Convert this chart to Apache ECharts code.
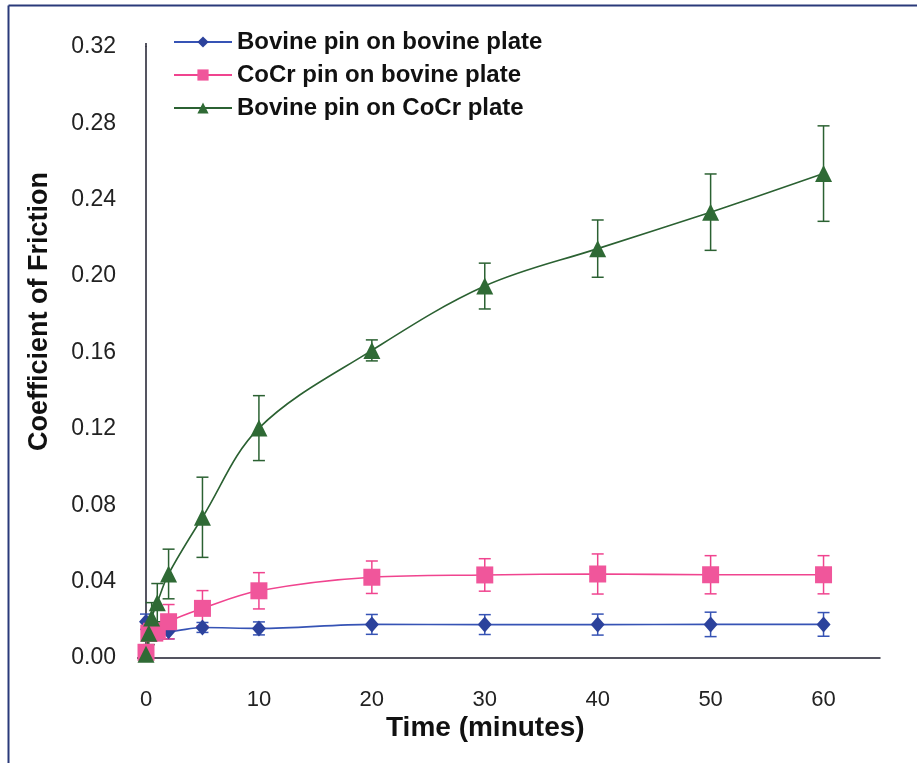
<!DOCTYPE html>
<html><head><meta charset="utf-8">
<script src="https://cdn.jsdelivr.net/npm/echarts@6/dist/echarts.min.js"></script>
<style>html,body{margin:0;padding:0;background:#fff}#c{width:917px;height:763px}</style>
</head><body><div id="c"></div>
<script>
const times = [0, 0.25, 0.5, 1, 2, 5, 10, 20, 30, 40, 50, 60];
const seriesNames = ['Bovine pin on bovine plate', 'CoCr pin on bovine plate', 'Bovine pin on CoCr plate'];
const bovineBovine = [0.019, 0.016, 0.015, 0.014, 0.014, 0.016, 0.0155, 0.0176, 0.0175, 0.0175, 0.0176, 0.0176];
const bovineBovineErr = [0.004, 0.004, 0.004, 0.004, 0.004, 0.0026, 0.0034, 0.0052, 0.0052, 0.0055, 0.0064, 0.0062];
const cocrBovine = [0.003, 0.013, 0.014, 0.014, 0.019, 0.026, 0.0352, 0.0423, 0.0435, 0.0440, 0.0436, 0.0436];
const cocrBovineErr = [0.002, 0.004, 0.005, 0.005, 0.009, 0.0093, 0.0095, 0.0085, 0.0085, 0.0105, 0.01, 0.01];
const bovineCocr = [0.002, 0.013, 0.021, 0.029, 0.044, 0.0737, 0.1204, 0.1611, 0.1948, 0.2144, 0.2335, 0.2537];
const bovineCocrErr = [0.003, 0.006, 0.008, 0.01, 0.013, 0.021, 0.017, 0.0055, 0.012, 0.015, 0.02, 0.025];
const yTicks = ['0.00','0.04','0.08','0.12','0.16','0.20','0.24','0.28','0.32'];

const colors = {
  line: ['#3653b5', '#f0448f', '#2b6132'],
  mark: ['#2c429c', '#f0569b', '#2f6a35']
};
const symbols = ['diamond', 'rect', 'triangle'];
const symSizes = [[14, 16], [17, 17], [17, 17]];
const vals = [bovineBovine, cocrBovine, bovineCocr];
const errs = [bovineBovineErr, cocrBovineErr, bovineCocrErr];

const series = [];
vals.forEach((v, i) => {
  series.push({
    name: seriesNames[i], type: 'line', smooth: 0.35,
    data: times.map((t, k) => [t, v[k]]),
    symbol: symbols[i], symbolSize: symSizes[i],
    lineStyle: { color: colors.line[i], width: 1.6 },
    itemStyle: { color: colors.mark[i] },
    z: 3
  });
  series.push({
    name: seriesNames[i] + ' err', type: 'custom',
    data: times.map((t, k) => [t, v[k] - errs[i][k], v[k] + errs[i][k]]),
    renderItem: function (params, api) {
      const lo = api.coord([api.value(0), api.value(1)]);
      const hi = api.coord([api.value(0), api.value(2)]);
      const w = 6;
      const st = { stroke: colors.line[i], lineWidth: 1.5 };
      return { type: 'group', children: [
        { type: 'line', shape: { x1: hi[0], y1: hi[1], x2: lo[0], y2: lo[1] }, style: st },
        { type: 'line', shape: { x1: hi[0] - w, y1: hi[1], x2: hi[0] + w, y2: hi[1] }, style: st },
        { type: 'line', shape: { x1: lo[0] - w, y1: lo[1], x2: lo[0] + w, y2: lo[1] }, style: st }
      ]};
    },
    z: 2, silent: true
  });
});

const chart = echarts.init(document.getElementById('c'));
chart.setOption({
  backgroundColor: '#fff',
  animation: false,
  grid: { left: 146, right: 37, top: 47, bottom: 105, containLabel: false },
  legend: {
    data: seriesNames, orient: 'vertical', left: 168, top: 25,
    itemWidth: 58, itemHeight: 14, itemGap: 9,
    textStyle: { fontFamily: 'Liberation Sans, Arial', fontWeight: 'bold', fontSize: 24, color: '#111' }
  },
  xAxis: {
    type: 'value', min: 0, max: 65, interval: 10,
    axisLine: { show: true, onZero: false, lineStyle: { color: '#1c1c2c', width: 1.5 } },
    axisTick: { show: false }, splitLine: { show: false },
    axisLabel: { fontFamily: 'Liberation Sans, Arial', fontSize: 22, color: '#222', margin: 31, showMaxLabel: false,
      formatter: v => v > 60 ? '' : String(v) }
  },
  yAxis: {
    type: 'value', min: 0, max: 0.32, interval: 0.04,
    axisLine: { show: true, lineStyle: { color: '#1c1c2c', width: 1.5 } },
    axisTick: { show: false }, splitLine: { show: false },
    axisLabel: { fontFamily: 'Liberation Sans, Arial', fontSize: 23, color: '#222', margin: 30,
      formatter: v => yTicks[Math.round(v / 0.04)] }
  },
  graphic: [
    { type: 'line', shape: { x1: 8.5, y1: 5.5, x2: 917, y2: 5.5 }, style: { stroke: '#2a3a7a', lineWidth: 2 } },
    { type: 'line', shape: { x1: 8.5, y1: 5.5, x2: 8.5, y2: 763 }, style: { stroke: '#2a3a7a', lineWidth: 2 } },
    { type: 'line', shape: { x1: 137, y1: 658, x2: 146, y2: 658 }, style: { stroke: '#1c1c2c', lineWidth: 1.5 } },
    { type: 'line', shape: { x1: 146, y1: 43, x2: 146, y2: 47 }, style: { stroke: '#1c1c2c', lineWidth: 1.5 } },
    { type: 'text', left: 26, top: 172, rotation: Math.PI / 2,
      style: { text: 'Coefficient of Friction', fontFamily: 'Liberation Sans, Arial', fontWeight: 'bold', fontSize: 27, fill: '#111' } },
    { type: 'text', left: 386, top: 714,
      style: { text: 'Time (minutes)', fontFamily: 'Liberation Sans, Arial', fontWeight: 'bold', fontSize: 28, fill: '#111' } }
  ],
  series: series
});
</script></body></html>
